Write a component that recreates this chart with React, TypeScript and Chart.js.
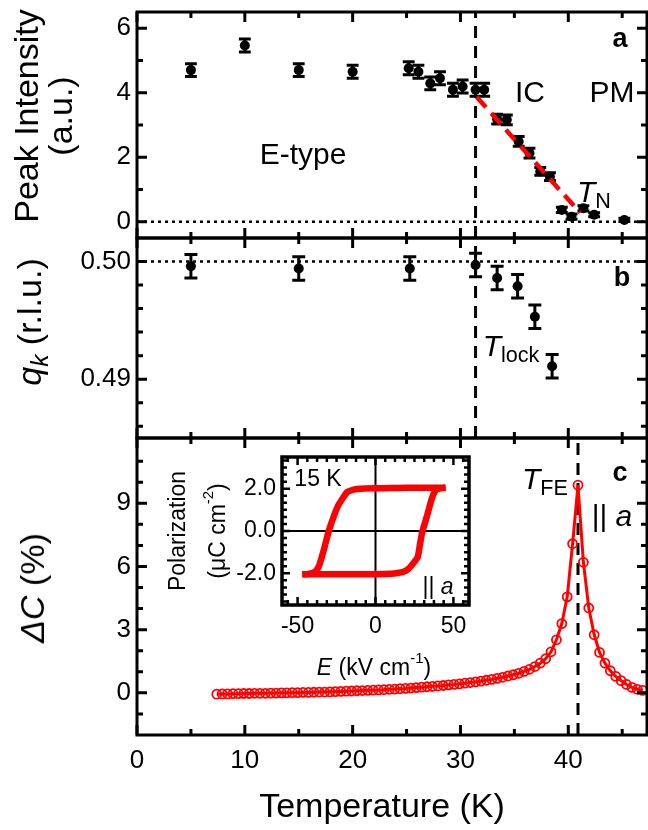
import React, { useEffect, useRef } from 'react';
import { Chart, registerables } from 'chart.js';

Chart.register(...registerables);

const FONT = '"Liberation Sans", Arial, Helvetica, sans-serif';
Chart.defaults.font.family = FONT;
Chart.defaults.color = '#000';

// ---------- shared temperature axis ----------
const tempMin = 0;
const tempMax = 47.3;
const tempLabelTicks = [0, 10, 20, 30, 40];
const tempMinorTicks = [5, 15, 25, 35, 45];

// ---------- panel a : peak intensity ----------
const intensityT = [5, 10, 15, 20, 25.2, 26.1, 27.2, 28.1, 29.3, 30.2, 31.4, 32.2, 33.4, 34.3, 35.4, 36.4, 37.4, 38.3, 39.4, 40.3, 41.4, 42.4, 45.2];
const intensity = [4.7, 5.46, 4.7, 4.65, 4.76, 4.65, 4.29, 4.45, 4.09, 4.19, 4.09, 4.09, 3.18, 3.16, 2.49, 2.13, 1.56, 1.4, 0.37, 0.16, 0.42, 0.22, 0.06];
const intensityErr = [0.2, 0.2, 0.2, 0.2, 0.2, 0.2, 0.2, 0.2, 0.2, 0.2, 0.2, 0.2, 0.15, 0.15, 0.15, 0.15, 0.12, 0.12, 0.08, 0.08, 0.08, 0.06, 0.05];
const fitT = [31.5, 41.1];
const fitI = [3.87, 0.28];
const aMin = -0.5;
const aMax = 6.5;
const aMajor = [0, 2, 4, 6];
const aMinor = [1, 3, 5];
const intensityBaseline = 0;

// ---------- panel b : q_k ----------
const qT = [5, 15, 25.3, 31.4, 33.4, 35.3, 36.9, 38.5];
const qk = [0.4996, 0.4994, 0.4994, 0.4997, 0.4986, 0.4979, 0.4953, 0.4911];
const qErr = [0.001, 0.001, 0.001, 0.001, 0.001, 0.001, 0.001, 0.001];
const bMin = 0.485;
const bMax = 0.502;
const bMajor = [0.49, 0.5];
const bMinor = [0.486, 0.488, 0.492, 0.494, 0.496, 0.498];
const qCommensurate = 0.5;
const tLock = 31.4;

// ---------- panel c : dielectric constant ----------
const tempC = [7.4, 7.9, 8.4, 8.9, 9.4, 9.9, 10.4, 10.9, 11.4, 11.9, 12.4, 12.9, 13.4, 13.9, 14.4, 14.9, 15.4, 15.9, 16.4, 16.9, 17.4, 17.9, 18.4, 18.9, 19.4, 19.9, 20.4, 20.9, 21.4, 21.9, 22.4, 22.9, 23.4, 23.9, 24.4, 24.9, 25.4, 25.9, 26.4, 26.9, 27.4, 27.9, 28.4, 28.9, 29.4, 29.9, 30.4, 30.9, 31.4, 31.9, 32.4, 32.9, 33.4, 33.9, 34.4, 34.9, 35.4, 35.9, 36.4, 36.9, 37.4, 37.9, 38.4, 38.9, 39.4, 39.9, 40.4, 40.9, 41.4, 41.9, 42.4, 42.9, 43.4, 43.9, 44.4, 44.9, 45.4, 45.9, 46.4, 46.9];
const deltaC = [
  -0.06, -0.05, -0.05, -0.04, -0.04, -0.03, -0.03, -0.02, -0.02, -0.02,
  -0.01, -0.01, 0.0, 0.0, 0.01, 0.01, 0.02, 0.02, 0.03, 0.04,
  0.04, 0.05, 0.06, 0.07, 0.08, 0.09, 0.1, 0.11, 0.12, 0.13,
  0.14, 0.15, 0.17, 0.18, 0.2, 0.21, 0.23, 0.25, 0.27, 0.29,
  0.31, 0.33, 0.35, 0.38, 0.4, 0.43, 0.46, 0.49, 0.52, 0.56,
  0.6, 0.64, 0.69, 0.74, 0.8, 0.86, 0.93, 1.02, 1.12, 1.25,
  1.41, 1.62, 1.95, 2.52, 3.29, 4.56, 7.08, 9.86, 6.2, 4.03,
  2.76, 1.92, 1.41, 1.05, 0.78, 0.58, 0.4, 0.26, 0.17, 0.12,
];
const cMin = -2;
const cMax = 12.1;
const cMajor = [0, 3, 6, 9];
const cMinor = [-1, 1, 2, 4, 5, 7, 8, 10, 11];
const tFE = 40.9;

// ---------- inset : P-E loop ----------
const upperE = [45, 40, 30, 20, 10, 0, -10, -14, -18, -21, -24, -27, -30, -33, -36, -38, -40, -43, -47];
const upperP = [2.05, 2.05, 2.05, 2.04, 2.03, 2.02, 2.0, 1.96, 1.85, 1.55, 1.2, 0.65, 0.0, -0.85, -1.6, -1.87, -1.97, -2.03, -2.05];
const lowerE = [-47, -40, -30, -20, -10, 0, 10, 14, 18, 21, 24, 27, 28.5, 30, 33, 36, 38, 40, 43, 45];
const lowerP = [-2.05, -2.05, -2.05, -2.05, -2.05, -2.04, -2.02, -1.99, -1.93, -1.8, -1.55, -1.25, -0.65, -0.05, 0.7, 1.5, 1.87, 1.98, 2.03, 2.05];
const insetEMin = -60;
const insetEMax = 60;
const insetPMin = -3.5;
const insetPMax = 3.5;
const insetEMajor = [-50, 0, 50];
const insetEMinor = [-56.25, -43.75, -37.5, -31.25, -25, -18.75, -12.5, -6.25, 6.25, 12.5, 18.75, 25, 31.25, 37.5, 43.75, 56.25];
const insetPMajor = [-2, 0, 2];
const insetPMinor = [-3.333, -3, -2.667, -2.333, -1.667, -1.333, -1, -0.667, -0.333, 0.333, 0.667, 1, 1.333, 1.667, 2.333, 2.667, 3, 3.333];

// ---------- helpers ----------
const pts = (xs: number[], ys: number[]) => xs.map((x, i) => ({ x, y: ys[i] }));

function errorBars(xs: number[], ys: number[], errs: number[], capHalf: number) {
  const out: { x: number; y: number | null }[] = [];
  xs.forEach((x, i) => {
    const lo = ys[i] - errs[i];
    const hi = ys[i] + errs[i];
    out.push({ x, y: lo }, { x, y: hi }, { x, y: null });
    out.push({ x: x - capHalf, y: hi }, { x: x + capHalf, y: hi }, { x, y: null });
    out.push({ x: x - capHalf, y: lo }, { x: x + capHalf, y: lo }, { x, y: null });
  });
  return out;
}

const MAJ = 10;
const MIN = 6;

function drawPanel(ctx: CanvasRenderingContext2D, chart: any, ys: any, yMajor: number[], yMinor: number[]) {
  const xs = chart.scales.x;
  const { left, right } = chart.chartArea;
  const top = ys.top;
  const bottom = ys.bottom;
  ctx.beginPath();
  const xt = (vals: number[], len: number) => {
    for (const v of vals) {
      const p = xs.getPixelForValue(v);
      ctx.moveTo(p, bottom);
      ctx.lineTo(p, bottom - len);
      ctx.moveTo(p, top);
      ctx.lineTo(p, top + len);
    }
  };
  const yt = (vals: number[], len: number) => {
    for (const v of vals) {
      const p = ys.getPixelForValue(v);
      ctx.moveTo(left, p);
      ctx.lineTo(left + len, p);
      ctx.moveTo(right, p);
      ctx.lineTo(right - len, p);
    }
  };
  xt(tempLabelTicks, MAJ);
  xt(tempMinorTicks, MIN);
  yt(yMajor, MAJ);
  yt(yMinor, MIN);
  ctx.stroke();
  ctx.strokeRect(left, top, right - left, bottom - top);
}

const framePlugin = {
  id: 'panelFrames',
  afterDraw(chart: any) {
    const ctx = chart.ctx;
    ctx.save();
    ctx.strokeStyle = '#000';
    ctx.lineWidth = 3;
    ctx.setLineDash([]);
    drawPanel(ctx, chart, chart.scales.yA, aMajor, aMinor);
    drawPanel(ctx, chart, chart.scales.yB, bMajor, bMinor);
    drawPanel(ctx, chart, chart.scales.yC, cMajor, cMinor);
    ctx.restore();
  },
};

const insetPlugin = {
  id: 'insetFrame',
  beforeDatasetsDraw(chart: any) {
    const ctx = chart.ctx;
    const { left, right, top, bottom } = chart.chartArea;
    const xs = chart.scales.x;
    const ys = chart.scales.y;
    ctx.save();
    ctx.strokeStyle = '#000';
    ctx.lineWidth = 2;
    ctx.beginPath();
    const x0 = xs.getPixelForValue(0);
    const y0 = ys.getPixelForValue(0);
    ctx.moveTo(x0, top);
    ctx.lineTo(x0, bottom);
    ctx.moveTo(left, y0);
    ctx.lineTo(right, y0);
    ctx.stroke();
    ctx.restore();
  },
  afterDraw(chart: any) {
    const ctx = chart.ctx;
    const { left, right, top, bottom } = chart.chartArea;
    const xs = chart.scales.x;
    const ys = chart.scales.y;
    ctx.save();
    ctx.strokeStyle = '#000';
    ctx.lineWidth = 2.5;
    ctx.beginPath();
    const xt = (vals: number[], len: number) => {
      for (const v of vals) {
        const p = xs.getPixelForValue(v);
        ctx.moveTo(p, bottom);
        ctx.lineTo(p, bottom - len);
        ctx.moveTo(p, top);
        ctx.lineTo(p, top + len);
      }
    };
    const yt = (vals: number[], len: number) => {
      for (const v of vals) {
        const p = ys.getPixelForValue(v);
        ctx.moveTo(left, p);
        ctx.lineTo(left + len, p);
        ctx.moveTo(right, p);
        ctx.lineTo(right - len, p);
      }
    };
    xt(insetEMajor, 8);
    xt(insetEMinor, 5);
    yt(insetPMajor, 8);
    yt(insetPMinor, 5);
    ctx.stroke();
    ctx.lineWidth = 3.5;
    ctx.strokeRect(left, top, right - left, bottom - top);
    ctx.restore();
  },
};

const tickFont = { size: 26, family: FONT };

function yScale(weight: number, min: number, max: number, labels: number[], digits: number) {
  return {
    type: 'linear',
    position: 'left',
    stack: 'panels',
    stackWeight: weight,
    min,
    max,
    grid: { display: false, drawTicks: false },
    border: { display: false },
    afterBuildTicks: (s: any) => {
      s.ticks = labels.map((v) => ({ value: v }));
    },
    afterFit: (s: any) => {
      s.width = 137;
      s.paddingTop = 0;
      s.paddingBottom = 0;
    },
    ticks: {
      font: tickFont,
      color: '#000',
      padding: 6,
      callback: (v: any) => Number(v).toFixed(digits),
    },
  };
}

const blackDash = [12, 8];
const dotDash = [3, 4];

function mainConfig(): any {
  return {
    type: 'scatter',
    data: {
      datasets: [
        // panel a
        { label: 'fit', data: pts(fitT, fitI), yAxisID: 'yA', showLine: true, pointRadius: 0, borderColor: '#ff0000', borderWidth: 4.5, borderDash: [14, 8], order: -1 },
        { label: 'intensity', data: pts(intensityT, intensity), yAxisID: 'yA', showLine: false, pointRadius: 5, pointBackgroundColor: '#000', pointBorderColor: '#000', pointBorderWidth: 0, order: 0 },
        { label: 'intensity error', data: errorBars(intensityT, intensity, intensityErr, 0.55), yAxisID: 'yA', showLine: true, spanGaps: false, pointRadius: 0, borderColor: '#000', borderWidth: 3, order: 1 },
        { label: 'baseline', data: [{ x: tempMin, y: intensityBaseline }, { x: tempMax, y: intensityBaseline }], yAxisID: 'yA', showLine: true, pointRadius: 0, borderColor: '#000', borderWidth: 2.5, borderDash: dotDash, order: 2 },
        { label: 'Tlock a', data: [{ x: tLock, y: aMin }, { x: tLock, y: aMax }], yAxisID: 'yA', showLine: true, pointRadius: 0, borderColor: '#000', borderWidth: 3, borderDash: blackDash, order: 2 },
        // panel b
        { label: 'qk', data: pts(qT, qk), yAxisID: 'yB', showLine: false, pointRadius: 5, pointBackgroundColor: '#000', pointBorderColor: '#000', pointBorderWidth: 0, order: 0 },
        { label: 'qk error', data: errorBars(qT, qk, qErr, 0.6), yAxisID: 'yB', showLine: true, spanGaps: false, pointRadius: 0, borderColor: '#000', borderWidth: 3, order: 1 },
        { label: 'commensurate', data: [{ x: tempMin, y: qCommensurate }, { x: tempMax, y: qCommensurate }], yAxisID: 'yB', showLine: true, pointRadius: 0, borderColor: '#000', borderWidth: 2.5, borderDash: dotDash, order: 2 },
        { label: 'Tlock b', data: [{ x: tLock, y: bMin }, { x: tLock, y: bMax }], yAxisID: 'yB', showLine: true, pointRadius: 0, borderColor: '#000', borderWidth: 3, borderDash: blackDash, order: 2 },
        // panel c
        { label: 'dC', data: pts(tempC, deltaC), yAxisID: 'yC', showLine: true, pointRadius: 4.5, pointBorderWidth: 1.8, pointBorderColor: '#ff0000', pointBackgroundColor: 'rgba(255,255,255,0)', borderColor: '#ff0000', borderWidth: 3, order: 0 },
        { label: 'TFE', data: [{ x: tFE, y: cMin }, { x: tFE, y: cMax }], yAxisID: 'yC', showLine: true, pointRadius: 0, borderColor: '#000', borderWidth: 3, borderDash: blackDash, order: 2 },
      ],
    },
    options: {
      animation: false,
      responsive: false,
      devicePixelRatio: 1,
      events: [],
      layout: { autoPadding: false, padding: { top: 12, right: 1, bottom: 0, left: 0 } },
      plugins: { legend: { display: false }, tooltip: { enabled: false } },
      scales: {
        x: {
          type: 'linear',
          position: 'bottom',
          min: tempMin,
          max: tempMax,
          grid: { display: false, drawTicks: false },
          border: { display: false },
          afterBuildTicks: (s: any) => {
            s.ticks = tempLabelTicks.map((v) => ({ value: v }));
          },
          afterFit: (s: any) => {
            s.height = 95;
            s.paddingLeft = 0;
            s.paddingRight = 0;
          },
          ticks: { font: tickFont, color: '#000', padding: 10, maxRotation: 0, autoSkip: false },
        },
        yC: yScale(297, cMin, cMax, cMajor, 0),
        yB: yScale(200, bMin, bMax, bMajor, 2),
        yA: yScale(226, aMin, aMax, aMajor, 0),
      },
    },
    plugins: [framePlugin],
  };
}

function insetConfig(): any {
  const insetFont = { size: 23, family: FONT };
  return {
    type: 'scatter',
    data: {
      datasets: [
        { label: 'down sweep', data: pts(upperE, upperP), showLine: true, pointRadius: 0, borderColor: '#ff0000', borderWidth: 6.5, tension: 0.2 },
        { label: 'up sweep', data: pts(lowerE, lowerP), showLine: true, pointRadius: 0, borderColor: '#ff0000', borderWidth: 6.5, tension: 0.2 },
      ],
    },
    options: {
      animation: false,
      responsive: false,
      devicePixelRatio: 1,
      events: [],
      layout: { autoPadding: false, padding: { top: 17, right: 11, bottom: 0, left: 0 } },
      plugins: { legend: { display: false }, tooltip: { enabled: false } },
      scales: {
        x: {
          type: 'linear',
          min: insetEMin,
          max: insetEMax,
          grid: { display: false, drawTicks: false },
          border: { display: false },
          afterBuildTicks: (s: any) => {
            s.ticks = insetEMajor.map((v) => ({ value: v }));
          },
          afterFit: (s: any) => {
            s.height = 75;
            s.paddingLeft = 0;
            s.paddingRight = 0;
          },
          ticks: { font: insetFont, color: '#000', padding: 8, maxRotation: 0, autoSkip: false },
        },
        y: {
          type: 'linear',
          min: insetPMin,
          max: insetPMax,
          grid: { display: false, drawTicks: false },
          border: { display: false },
          afterBuildTicks: (s: any) => {
            s.ticks = insetPMajor.map((v) => ({ value: v }));
          },
          afterFit: (s: any) => {
            s.width = 132;
            s.paddingTop = 0;
            s.paddingBottom = 0;
          },
          ticks: { font: insetFont, color: '#000', padding: 6, callback: (v: any) => Number(v).toFixed(1) },
        },
      },
    },
    plugins: [insetPlugin],
  };
}

type TxtProps = { x: number; y: number; size: number; rot?: boolean; bold?: boolean; children: React.ReactNode };
const Txt = ({ x, y, size, rot, bold, children }: TxtProps) => (
  <div
    style={{
      position: 'absolute',
      left: x,
      top: y,
      transform: `translate(-50%, -50%)${rot ? ' rotate(-90deg)' : ''}`,
      fontSize: size,
      fontWeight: bold ? 'bold' : 'normal',
      fontFamily: FONT,
      lineHeight: 1,
      whiteSpace: 'nowrap',
      color: '#000',
    }}
  >
    {children}
  </div>
);

const Sub = ({ children }: { children: React.ReactNode }) => (
  <span style={{ fontSize: '0.72em', verticalAlign: '-0.28em' }}>{children}</span>
);
const Sup = ({ children }: { children: React.ReactNode }) => (
  <span style={{ fontSize: '0.65em', verticalAlign: '0.75em' }}>{children}</span>
);

export default function App() {
  const mainRef = useRef<HTMLCanvasElement>(null);
  const insetRef = useRef<HTMLCanvasElement>(null);
  useEffect(() => {
    const main = new Chart(mainRef.current as HTMLCanvasElement, mainConfig());
    const inset = new Chart(insetRef.current as HTMLCanvasElement, insetConfig());
    return () => {
      main.destroy();
      inset.destroy();
    };
  }, []);
  return (
    <div style={{ position: 'absolute', left: 0, top: 0, width: 648, height: 830, background: '#fff', overflow: 'hidden' }}>
      <canvas ref={mainRef} width={648} height={830} style={{ position: 'absolute', left: 0, top: 0 }} />
      <canvas ref={insetRef} width={330} height={240} style={{ position: 'absolute', left: 150, top: 440 }} />

      {/* axis titles */}
      <Txt x={26} y={116} size={34} rot>Peak Intensity</Txt>
      <Txt x={60} y={116} size={34} rot>(a.u.)</Txt>
      <Txt x={32} y={322} size={34} rot>
        <i>q</i>
        <Sub><i>k</i></Sub> (r.l.u.)
      </Txt>
      <Txt x={32} y={588} size={34} rot>
        <i>ΔC</i> (%)
      </Txt>
      <Txt x={382} y={805} size={34}>Temperature (K)</Txt>

      {/* panel annotations */}
      <Txt x={620} y={38} size={27} bold>a</Txt>
      <Txt x={622} y={277} size={27} bold>b</Txt>
      <Txt x={620} y={472} size={27} bold>c</Txt>
      <Txt x={530} y={92} size={30}>IC</Txt>
      <Txt x={612} y={92} size={30}>PM</Txt>
      <Txt x={303} y={154} size={30}>E-type</Txt>
      <Txt x={594} y={194} size={30}>
        <i>T</i>
        <Sub>N</Sub>
      </Txt>
      <Txt x={511} y={348} size={30}>
        <i>T</i>
        <Sub>lock</Sub>
      </Txt>
      <Txt x={545} y={481} size={30}>
        <i>T</i>
        <Sub>FE</Sub>
      </Txt>
      <Txt x={612} y={516} size={30}>
        || <i>a</i>
      </Txt>

      {/* inset texts */}
      <Txt x={318} y={478} size={23}>15 K</Txt>
      <Txt x={438} y={586} size={23}>
        || <i>a</i>
      </Txt>
      <Txt x={177} y={531} size={23} rot>Polarization</Txt>
      <Txt x={215} y={531} size={23} rot>
        (μC cm<Sup>-2</Sup>)
      </Txt>
      <Txt x={374} y={665} size={23}>
        <i>E</i> (kV cm<Sup>-1</Sup>)
      </Txt>
    </div>
  );
}
